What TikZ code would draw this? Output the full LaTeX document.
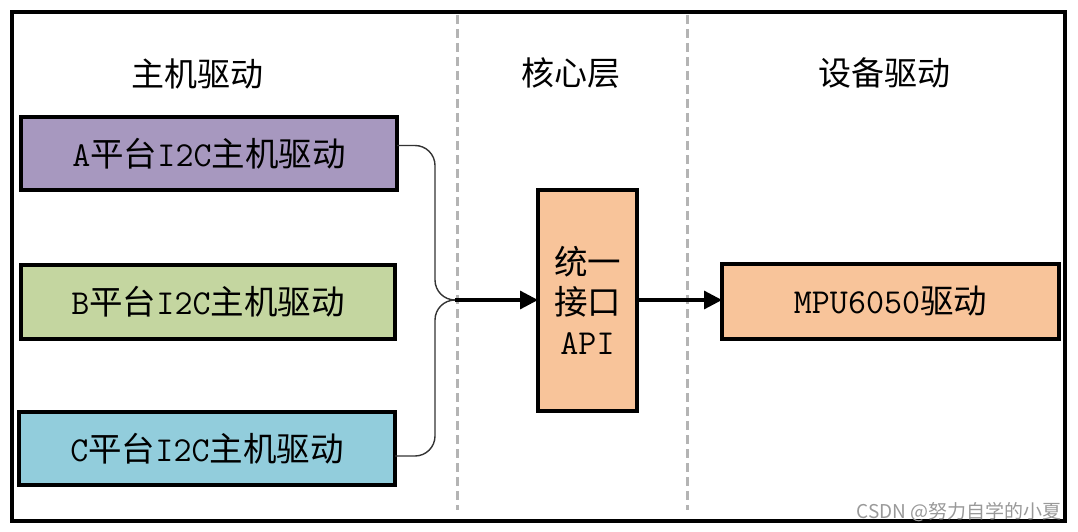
\documentclass[tikz,border=0pt]{standalone}
\usepackage{fontspec}
\newfontfamily\cjk{Noto Sans CJK SC}
\newfontfamily\lat{Latin Modern Mono}
\usetikzlibrary{arrows.meta}
\newcommand\zh[1]{{\cjk\fontsize{33.5}{34}\selectfont #1}}
\begin{document}
\begin{tikzpicture}[x=1pt,y=-1pt,
  box/.style={draw=black,line width=3.6pt,inner sep=0pt,outer sep=0pt,
    font=\lat\fontsize{35}{36}\selectfont},
  title/.style={font=\cjk\fontsize{33}{38}\selectfont,inner sep=0pt},
  sep/.style={draw={rgb,255:red,180;green,180;blue,180},line width=3pt,dash pattern=on 9pt off 5pt},
  thin/.style={draw=black!80,line width=1.4pt,rounded corners=20pt},
  thick/.style={draw=black,line width=3.2pt,-{Triangle[length=18pt,width=18pt]}}]
\definecolor{cA}{RGB}{167,152,191}
\definecolor{cB}{RGB}{196,214,160}
\definecolor{cC}{RGB}{146,205,220}
\definecolor{cP}{RGB}{248,196,154}
\useasboundingbox (0,0) rectangle (1078,532);
\draw[line width=3.6pt] (12,12) rectangle (1065,521);
\draw[sep] (457,15) -- (457,510);
\draw[sep] (687,15) -- (687,510);
\node[title] (t1) at (197,74) {主机驱动};
\node[title] (t2) at (571,73) {核心层};
\node[title] (t3) at (884,73) {设备驱动};
\node[box,fill=cA,minimum width=376pt,minimum height=73pt] (A) at (209,153.5)
  {A\zh{平台}I2C\zh{主机驱动}};
\node[box,fill=cB,minimum width=374pt,minimum height=74pt] (B) at (208,302)
  {B\zh{平台}I2C\zh{主机驱动}};
\node[box,fill=cC,minimum width=376pt,minimum height=73pt] (C) at (207,448.5)
  {C\zh{平台}I2C\zh{主机驱动}};
\node[box,fill=cP,minimum width=99pt,minimum height=221pt,align=center,
  font=\lat\fontsize{35}{40}\selectfont] (api) at (587.5,300.5)
  {\zh{统一}\\\zh{接口}\\API};
\node[box,fill=cP,minimum width=337pt,minimum height=75pt] (mpu) at (890.5,301.5)
  {MPU6050\zh{驱动}};
\coordinate (m) at (455,300);
\draw[thin] ([yshift=8pt]A.east) -- (435,145.5) -- (435,300) -- (m);
\draw[thin] ([yshift=-7.5pt]C.east) -- (435,456) -- (435,300) -- (m);
\draw[thick] (m) -- (api.west |- m);
\draw[thick] (api.east |- m) -- (mpu.west |- m);
\node[font=\cjk\fontsize{19}{21}\selectfont,text=black!40,anchor=south east,inner sep=0pt] (wm) at (1062,522) {CSDN @努力自学的小夏};
\end{tikzpicture}
\end{document}
